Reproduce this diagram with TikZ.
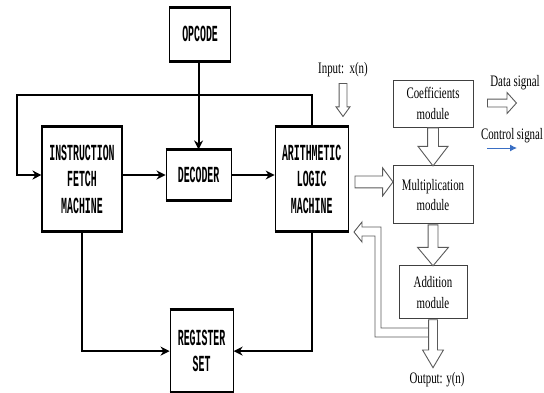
\documentclass[tikz,border=0pt]{standalone}
\usepackage{fontspec}
\setmainfont{Liberation Serif}
\newfontfamily\blockfont{Liberation Mono}[FakeStretch=0.43]
\newfontfamily\modfont{Liberation Serif}[FakeStretch=0.68]
\usetikzlibrary{shapes.arrows, arrows.meta, positioning, calc}
\definecolor{boxgray}{HTML}{404040}
\definecolor{arrgray}{HTML}{5A5A5A}
\definecolor{ctrlblue}{HTML}{3A6FC4}

\begin{document}
\begin{tikzpicture}[x=1pt, y=-1pt, >={Stealth[length=9pt,width=9pt]}, line width=2pt,
    block/.style={draw, line width=1.1pt, align=center, inner sep=0pt, font=\blockfont\bfseries\fontsize{23}{26.5}\selectfont},
    module/.style={draw=boxgray, line width=0.9pt, align=center, inner sep=0pt, font=\modfont\fontsize{16}{20.5}\selectfont},
    lbl/.style={font=\modfont\fontsize{16}{18}\selectfont, inner sep=0pt},
    harrow/.style args={#1/#2/#3}{single arrow, draw=arrgray, line width=0.9pt, fill=white, inner xsep=0pt, inner ysep=#1, single arrow head extend=#2, single arrow tip angle=#3}]
    \useasboundingbox (0,0) rectangle (544,392);

    % processor side
    \node[block, minimum width=80pt, minimum height=104pt] (ifm) at (82,179) {INSTRUCTION\\FETCH\\MACHINE};
    \node[block, minimum width=65pt, minimum height=50pt] (dec) [right=43pt of ifm, yshift=4pt] {DECODER};
    \node[block, minimum width=73pt, minimum height=104pt] (alm) [right=43pt of dec, yshift=-4pt] {ARITHMETIC\\LOGIC\\MACHINE};
    \node[block, minimum width=61pt, minimum height=53pt] (opcode) [above=88pt of dec, xshift=1.5pt] {OPCODE};
    \node[block, minimum width=63pt, minimum height=82pt] (reg) [below=109pt of dec, xshift=3pt] {REGISTER\\SET};
    \foreach \b in {opcode,ifm,dec,alm,reg}
        \draw[line width=3pt] (\b.north west) -- (\b.north east) (\b.south west) -- (\b.south east);

    \coordinate (loop) at (17,95);
    \draw[->] (opcode.south -| dec.north) -- (dec.north);
    \draw[->] (ifm.east |- dec.west) -- (dec.west);
    \draw[->] (dec.east) -- (alm.west |- dec.east);
    \draw[->] (alm.north) |- (loop) |- (ifm.west |- dec.west);
    \draw[->] (ifm.south) |- (reg.west);
    \draw[->] (alm.south) |- (reg.east);

    % filter side
    \node[module, minimum width=80pt, minimum height=47pt] (coef) at (433,103.5) {Coefficients\\module};
    \node[module, minimum width=80pt, minimum height=58pt] (mult) [below=38pt of coef] {Multiplication\\module};
    \node[module, minimum width=68pt, minimum height=53pt] (add) [below=41pt of mult] {Addition\\module};

    \coordinate (inp) at (343,83);
    \node[lbl] (inlbl) at (343,70) {Input:\ \ x(n)};
    \node[harrow=3.5pt/3pt/72, minimum height=33pt, anchor=tail, rotate=-90] (inarr) at (inp) {};
    \node[harrow=5pt/9.5pt/75, minimum height=38pt, anchor=tail, rotate=-90] (c2m) at (coef.south) {};
    \node[harrow=4.5pt/10.5pt/80, minimum height=41pt, anchor=tail, rotate=-90] (m2a) at (mult.south) {};
    \node[harrow=5.5pt/8pt/107, minimum height=38pt, anchor=tail] (a2m) at ($(mult.west)+(-38,-13)$) {};

    % feedback from addition back to the ALU
    \draw[arrgray, line width=0.9pt] (429,328) -- (381,328) -- (381,227) -- (362,227) -- (362,222) -- (354,232)
        -- (362,242) -- (362,236) -- (375,236) -- (375,337) -- (429,337);
    \node[harrow=4pt/6pt/61, minimum height=48pt, anchor=tail, rotate=-90] (out) at (add.south) {};
    \node[lbl] (outlbl) at (437,380) {Output: y(n)};

    % legend
    \node[lbl] (datalbl) at (515,83) {Data signal};
    \node[harrow=3.5pt/6.5pt/96, minimum height=29pt, anchor=tail] (datarr) at (487,103) {};
    \node[lbl] (ctrllbl) at (512,136) {Control signal};
    \coordinate (ctrlA) at (487,148);
    \coordinate (ctrlB) at (517,148);
    \draw[ctrlblue, line width=1pt, -{Latex[length=7pt,width=7pt]}] (ctrlA) -- (ctrlB);
\end{tikzpicture}
\end{document}
